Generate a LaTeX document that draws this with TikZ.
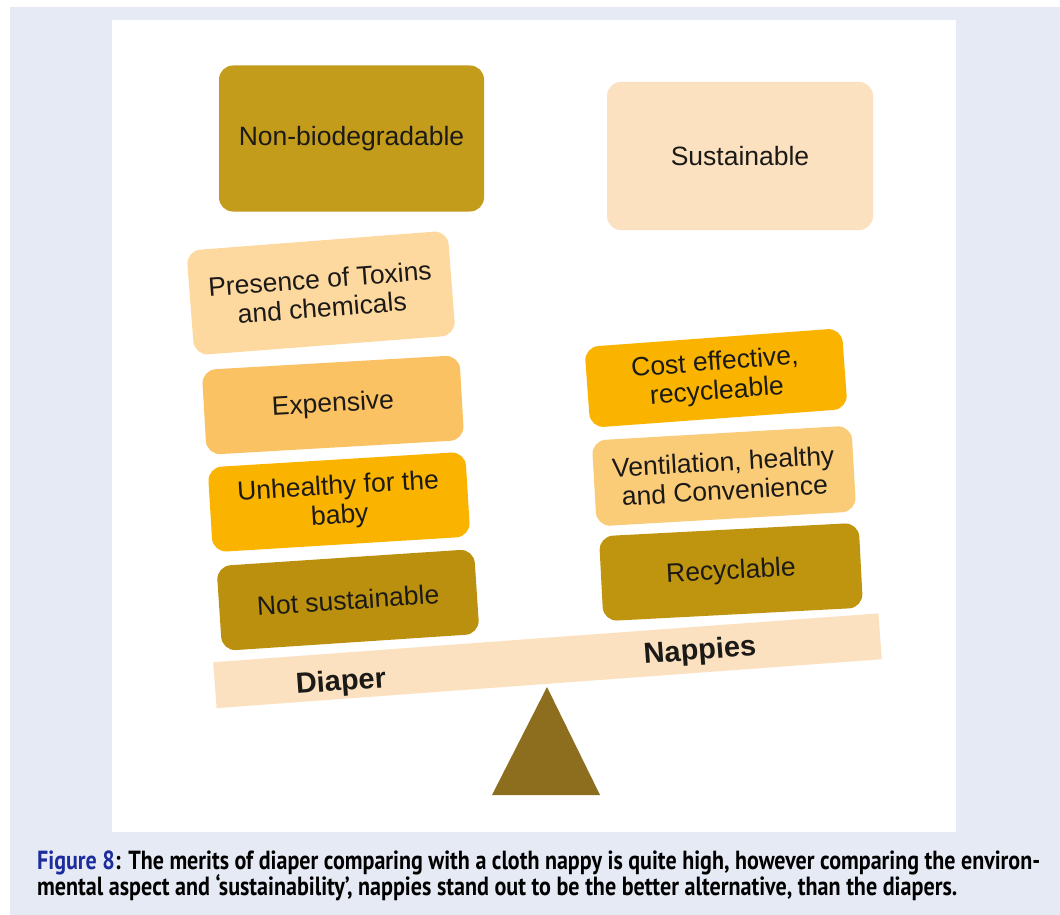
\documentclass[tikz,border=0pt]{standalone}
\usepackage{fontspec}
\usepackage{graphicx}
\setmainfont{Liberation Sans}
\newfontfamily\capfont[FakeStretch=0.84]{PT Sans}
\definecolor{panelbg}{HTML}{E6EAF5}
\definecolor{darkgold}{HTML}{C49C1C}
\definecolor{darkgoldb}{HTML}{BA900E}
\definecolor{darkgoldc}{HTML}{BF950F}
\definecolor{peach}{HTML}{FCE1C0}
\definecolor{lightorange}{HTML}{FDD9A0}
\definecolor{midorange}{HTML}{FAC262}
\definecolor{midorangeb}{HTML}{FBCC78}
\definecolor{amber}{HTML}{FAB400}
\definecolor{boxtext}{HTML}{1C1A16}
\definecolor{fulcrum}{HTML}{8C6E1E}
\definecolor{figblue}{HTML}{1C2C9C}
\begin{document}
\begin{tikzpicture}[x=1pt,y=-1pt,
  box/.style={shape=rectangle, rounded corners=14pt, inner sep=0pt, align=center,
    text=boxtext, font=\fontsize{26.5}{29}\selectfont, minimum width=258pt, minimum height=85pt},
  plankstyle/.style={shape=rectangle, fill=peach, inner sep=0pt, minimum width=667pt, minimum height=46pt},
  sidelabel/.style={inner sep=0pt, text=boxtext, font=\fontsize{29}{32}\selectfont\bfseries},
  capline/.style={inner sep=0pt, anchor=base west, font=\capfont\bfseries}
]
\useasboundingbox (0,0) rectangle (1060,915);
\fill[white] (0,0) rectangle (1060,915);
\fill[panelbg] (10,7) rectangle (1060,915);
\fill[white] (112,20) rectangle (956,832);

% left column (Diaper)
\node[box, fill=darkgold, minimum width=265pt, minimum height=146pt] (nonbio) at (351.5,138.5) {Non-biodegradable};
\node[box, fill=lightorange, minimum width=262pt, minimum height=105pt, rotate=4.4] (toxins) at (321,293) {Presence of Toxins\\and chemicals};
\node[box, fill=midorange, rotate=3.3] (expensive) at (333,405) {Expensive};
\node[box, fill=amber, rotate=3.5] (unhealthy) at (339,502) {Unhealthy for the\\baby};
\node[box, fill=darkgoldb, rotate=3.8] (notsust) at (348,600) {Not sustainable};

% right column (Nappies)
\node[box, fill=peach, minimum width=266pt, minimum height=148pt] (sust) at (740,156) {Sustainable};
\node[box, fill=amber, minimum height=81pt, rotate=4.2] (cost) at (716,378) {Cost effective,\\recycleable};
\node[box, fill=midorangeb, minimum width=260pt, minimum height=86pt, rotate=3.3] (vent) at (724,476) {Ventilation, healthy\\and Convenience};
\node[box, fill=darkgoldc, minimum width=260pt, rotate=3.0] (recyc) at (731,572) {Recyclable};

% see-saw
\node[plankstyle, rotate=4.2] (plank) at (547.5,660.75) {};
\node[sidelabel, rotate=4.2] (diaper) at (341,683) {Diaper};
\node[sidelabel, rotate=4.2] (nappies) at (700,652) {Nappies};
\fill[fulcrum] (547,687) -- (492,795) -- (600,795) -- cycle;

% caption
\node[capline] (cap1) at (37,869) {\resizebox{1003pt}{!}{\fontsize{20}{24}\selectfont\textcolor{figblue}{Figure 8}: The merits of diaper comparing with a cloth nappy is quite high, however comparing the environ-}};
\node[capline] (cap2) at (37,895) {\resizebox{920pt}{!}{\fontsize{20}{24}\selectfont mental aspect and ‘sustainability’, nappies stand out to be the better alternative, than the diapers.}};
\end{tikzpicture}
\end{document}
